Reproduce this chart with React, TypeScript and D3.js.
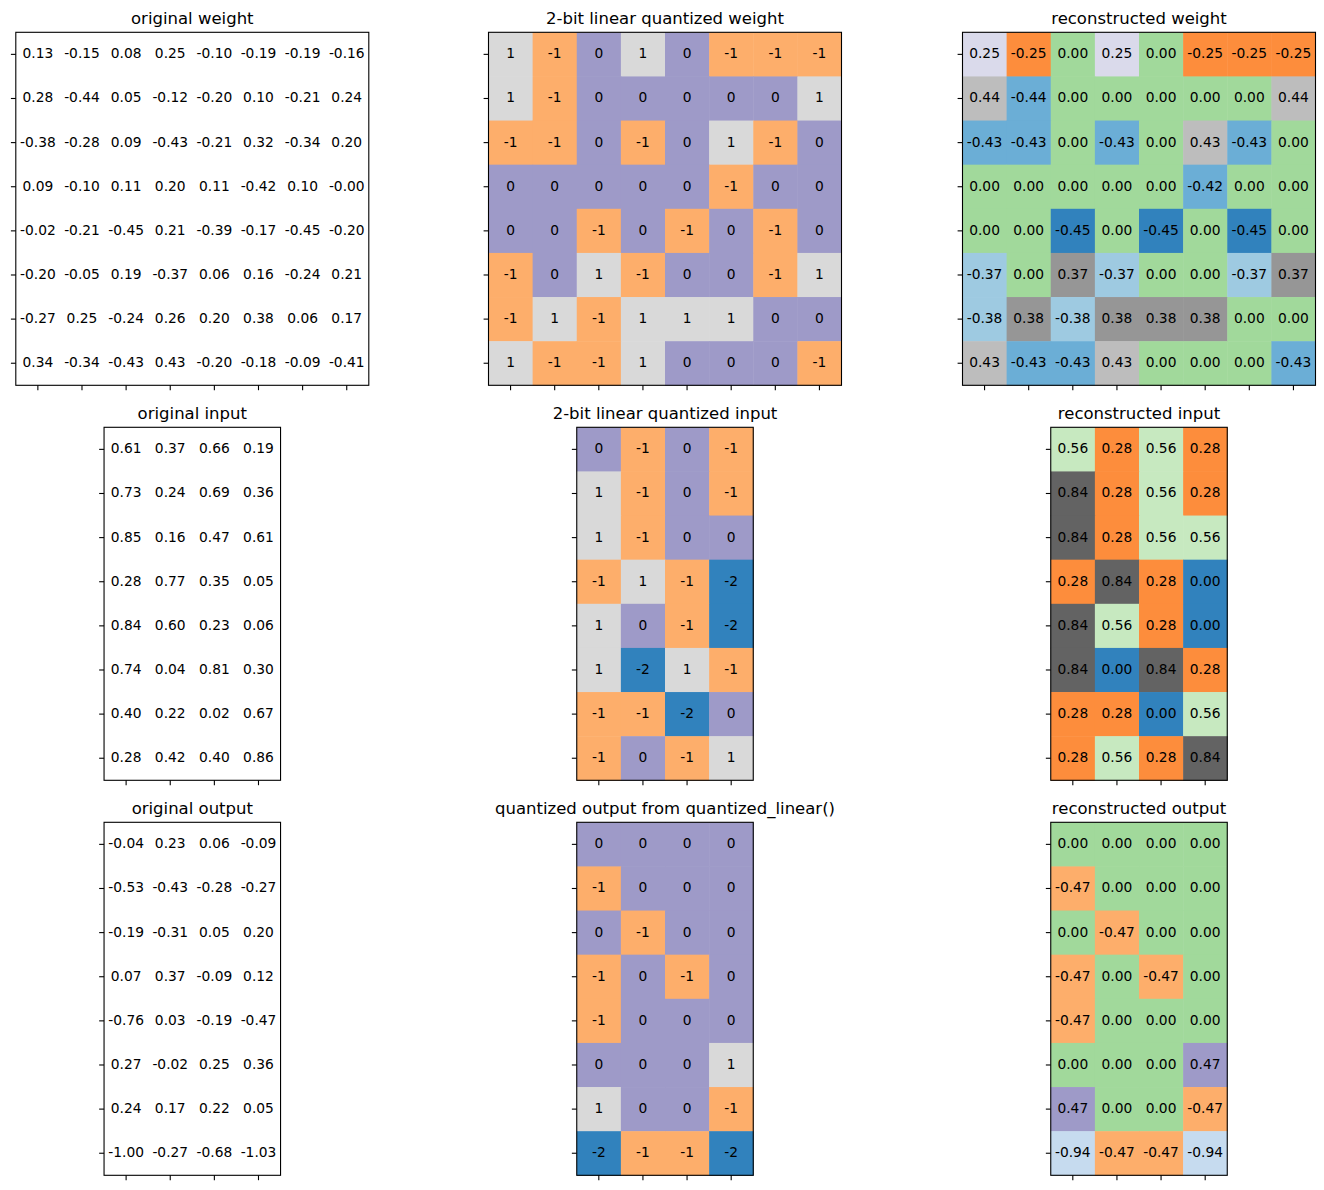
import React from "react";
import * as d3 from "d3";

// ---------- data ----------
const origWeight: number[][] = [
  [0.13, -0.15, 0.08, 0.25, -0.10, -0.19, -0.19, -0.16],
  [0.28, -0.44, 0.05, -0.12, -0.20, 0.10, -0.21, 0.24],
  [-0.38, -0.28, 0.09, -0.43, -0.21, 0.32, -0.34, 0.20],
  [0.09, -0.10, 0.11, 0.20, 0.11, -0.42, 0.10, -0.001],
  [-0.02, -0.21, -0.45, 0.21, -0.39, -0.17, -0.45, -0.20],
  [-0.20, -0.05, 0.19, -0.37, 0.06, 0.16, -0.24, 0.21],
  [-0.27, 0.25, -0.24, 0.26, 0.20, 0.38, 0.06, 0.17],
  [0.34, -0.34, -0.43, 0.43, -0.20, -0.18, -0.09, -0.41],
];
const quantWeight: number[][] = [
  [1, -1, 0, 1, 0, -1, -1, -1],
  [1, -1, 0, 0, 0, 0, 0, 1],
  [-1, -1, 0, -1, 0, 1, -1, 0],
  [0, 0, 0, 0, 0, -1, 0, 0],
  [0, 0, -1, 0, -1, 0, -1, 0],
  [-1, 0, 1, -1, 0, 0, -1, 1],
  [-1, 1, -1, 1, 1, 1, 0, 0],
  [1, -1, -1, 1, 0, 0, 0, -1],
];
const reconWeight: number[][] = [
  [0.25, -0.25, 0.0, 0.25, 0.0, -0.25, -0.25, -0.25],
  [0.44, -0.44, 0.0, 0.0, 0.0, 0.0, 0.0, 0.44],
  [-0.43, -0.43, 0.0, -0.43, 0.0, 0.43, -0.43, 0.0],
  [0.0, 0.0, 0.0, 0.0, 0.0, -0.42, 0.0, 0.0],
  [0.0, 0.0, -0.45, 0.0, -0.45, 0.0, -0.45, 0.0],
  [-0.37, 0.0, 0.37, -0.37, 0.0, 0.0, -0.37, 0.37],
  [-0.38, 0.38, -0.38, 0.38, 0.38, 0.38, 0.0, 0.0],
  [0.43, -0.43, -0.43, 0.43, 0.0, 0.0, 0.0, -0.43],
];
const origInput: number[][] = [
  [0.61, 0.37, 0.66, 0.19],
  [0.73, 0.24, 0.69, 0.36],
  [0.85, 0.16, 0.47, 0.61],
  [0.28, 0.77, 0.35, 0.05],
  [0.84, 0.60, 0.23, 0.06],
  [0.74, 0.04, 0.81, 0.30],
  [0.40, 0.22, 0.02, 0.67],
  [0.28, 0.42, 0.40, 0.86],
];
const quantInput: number[][] = [
  [0, -1, 0, -1],
  [1, -1, 0, -1],
  [1, -1, 0, 0],
  [-1, 1, -1, -2],
  [1, 0, -1, -2],
  [1, -2, 1, -1],
  [-1, -1, -2, 0],
  [-1, 0, -1, 1],
];
const reconInput: number[][] = [
  [0.56, 0.28, 0.56, 0.28],
  [0.84, 0.28, 0.56, 0.28],
  [0.84, 0.28, 0.56, 0.56],
  [0.28, 0.84, 0.28, 0.0],
  [0.84, 0.56, 0.28, 0.0],
  [0.84, 0.0, 0.84, 0.28],
  [0.28, 0.28, 0.0, 0.56],
  [0.28, 0.56, 0.28, 0.84],
];
const origOutput: number[][] = [
  [-0.04, 0.23, 0.06, -0.09],
  [-0.53, -0.43, -0.28, -0.27],
  [-0.19, -0.31, 0.05, 0.20],
  [0.07, 0.37, -0.09, 0.12],
  [-0.76, 0.03, -0.19, -0.47],
  [0.27, -0.02, 0.25, 0.36],
  [0.24, 0.17, 0.22, 0.05],
  [-1.00, -0.27, -0.68, -1.03],
];
const quantOutput: number[][] = [
  [0, 0, 0, 0],
  [-1, 0, 0, 0],
  [0, -1, 0, 0],
  [-1, 0, -1, 0],
  [-1, 0, 0, 0],
  [0, 0, 0, 1],
  [1, 0, 0, -1],
  [-2, -1, -1, -2],
];
const reconOutput: number[][] = [
  [0.0, 0.0, 0.0, 0.0],
  [-0.47, 0.0, 0.0, 0.0],
  [0.0, -0.47, 0.0, 0.0],
  [-0.47, 0.0, -0.47, 0.0],
  [-0.47, 0.0, 0.0, 0.0],
  [0.0, 0.0, 0.0, 0.47],
  [0.47, 0.0, 0.0, -0.47],
  [-0.94, -0.47, -0.47, -0.94],
];

const titles = [
  ["original weight", "2-bit linear quantized weight", "reconstructed weight"],
  ["original input", "2-bit linear quantized input", "reconstructed input"],
  ["original output", "quantized output from quantized_linear()", "reconstructed output"],
];

// matplotlib tab20c
const tab20c = [
  "#3182bd", "#6baed6", "#9ecae1", "#c6dbef",
  "#e6550d", "#fd8d3c", "#fdae6b", "#fdd0a2",
  "#31a354", "#74c476", "#a1d99b", "#c7e9c0",
  "#756bb1", "#9e9ac8", "#bcbddc", "#dadaeb",
  "#636363", "#969696", "#bdbdbd", "#d9d9d9",
];

// colour limits per panel (null = no colour, white)
const quantDomain: [number, number] = [-2, 1];
const reconWeightDomain: [number, number] = [-0.4985, 0.4915];
const reconInputDomain: [number, number] = [0, 1];
const reconOutputDomain: [number, number] = [-1.45, 1.45];

type Panel = {
  data: number[][];
  domain: [number, number] | null;
  integer: boolean;
};

const panels: Panel[][] = [
  [
    { data: origWeight, domain: null, integer: false },
    { data: quantWeight, domain: quantDomain, integer: true },
    { data: reconWeight, domain: reconWeightDomain, integer: false },
  ],
  [
    { data: origInput, domain: null, integer: false },
    { data: quantInput, domain: quantDomain, integer: true },
    { data: reconInput, domain: reconInputDomain, integer: false },
  ],
  [
    { data: origOutput, domain: null, integer: false },
    { data: quantOutput, domain: quantDomain, integer: true },
    { data: reconOutput, domain: reconOutputDomain, integer: false },
  ],
];

// ---------- layout ----------
const W = 1324;
const H = 1190;
const rowTops = [32.3, 427.3, 822.3];
const colCenters = [192.3, 665.0, 1139.0];
const axH = 353;
const FONT = "'DejaVu Sans', sans-serif";

function Heatmap({ panel, title, cx, top }: { panel: Panel; title: string; cx: number; top: number }) {
  const nRows = panel.data.length;
  const nCols = panel.data[0].length;
  const cell = axH / nRows;
  const axW = cell * nCols;
  const left = cx - axW / 2;

  const x = d3.scaleBand<number>().domain(d3.range(nCols)).range([left, left + axW]).padding(0);
  const y = d3.scaleBand<number>().domain(d3.range(nRows)).range([top, top + axH]).padding(0);
  const color = panel.domain
    ? d3.scaleQuantize<string>().domain(panel.domain).range(tab20c)
    : null;
  const fmt = (v: number) => (panel.integer ? String(Math.round(v)) : v.toFixed(2));

  const cells: React.ReactNode[] = [];
  panel.data.forEach((row, r) =>
    row.forEach((v, c) => {
      cells.push(
        <rect
          key={`r${r}-${c}`}
          x={x(c)!}
          y={y(r)!}
          width={x.bandwidth() + 0.5}
          height={y.bandwidth() + 0.5}
          fill={color ? color(v) : "#ffffff"}
        />
      );
    })
  );
  const labels: React.ReactNode[] = [];
  panel.data.forEach((row, r) =>
    row.forEach((v, c) => {
      labels.push(
        <text
          key={`t${r}-${c}`}
          x={x(c)! + x.bandwidth() / 2}
          y={y(r)! + y.bandwidth() / 2 - 1}
          textAnchor="middle"
          dominantBaseline="central"
          fontSize={13.8}
          fill="#000"
        >
          {fmt(v)}
        </text>
      );
    })
  );
  const tickLen = 4.9;
  return (
    <g fontFamily={FONT}>
      {cells}
      {labels}
      <rect x={left} y={top} width={axW} height={axH} fill="none" stroke="#000" strokeWidth={1.1} />
      {d3.range(nRows).map((r) => (
        <line
          key={`yt${r}`}
          x1={left - tickLen}
          x2={left}
          y1={y(r)! + y.bandwidth() / 2}
          y2={y(r)! + y.bandwidth() / 2}
          stroke="#000"
          strokeWidth={1.1}
        />
      ))}
      {d3.range(nCols).map((c) => (
        <line
          key={`xt${c}`}
          x1={x(c)! + x.bandwidth() / 2}
          x2={x(c)! + x.bandwidth() / 2}
          y1={top + axH}
          y2={top + axH + tickLen}
          stroke="#000"
          strokeWidth={1.1}
        />
      ))}
      <text x={cx} y={top - 8} textAnchor="middle" fontSize={16.5} fill="#000">
        {title}
      </text>
    </g>
  );
}

export default function App() {
  return (
    <>
      <style>{`body{margin:0;background:#fff}`}</style>
      <svg width={W} height={H} viewBox={`0 0 ${W} ${H}`} style={{ display: "block", background: "#fff" }}>
        <rect x={0} y={0} width={W} height={H} fill="#fff" />
        {panels.map((row, ri) =>
          row.map((p, ci) => (
            <Heatmap key={`${ri}-${ci}`} panel={p} title={titles[ri][ci]} cx={colCenters[ci]} top={rowTops[ri]} />
          ))
        )}
      </svg>
    </>
  );
}
